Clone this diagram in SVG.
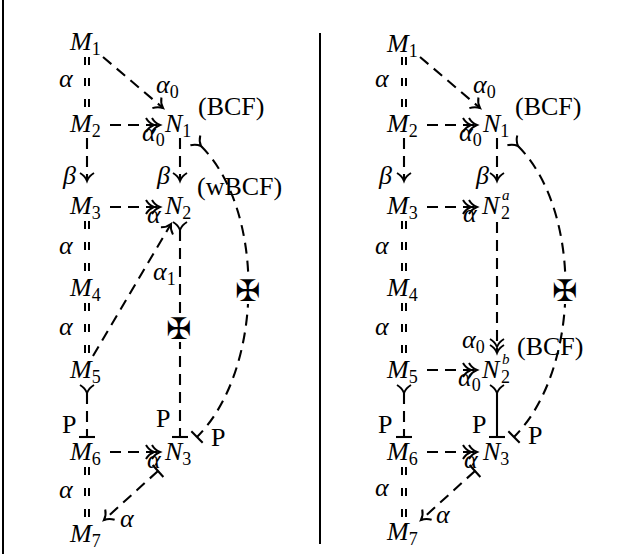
<svg xmlns="http://www.w3.org/2000/svg" width="636" height="554" viewBox="0 0 636 554">
<style>
.t{font-family:"Liberation Serif","Times New Roman",serif;font-size:26px;fill:#000}
.i{font-style:italic}
.s{font-size:18px}
.sp{font-size:15px}
.d{fill:none;stroke:#000;stroke-width:2.1;stroke-dasharray:11 7}
.dd{fill:none;stroke:#000;stroke-width:2;stroke-dasharray:8 13}
.sol{fill:none;stroke:#000;stroke-width:2.1}
.x{font-family:"DejaVu Sans",sans-serif;font-size:30px;fill:#000}
</style>
<defs>
<marker id="to" viewBox="-15 -10 25 20" refX="0" refY="0" markerWidth="25" markerHeight="20" markerUnits="userSpaceOnUse" orient="auto" overflow="visible"><path d="M-8,-7 C-6,-3.5 -2.5,-1 0,0 C-2.5,1 -6,3.5 -8,7" fill="none" stroke="#000" stroke-width="2"/></marker>
<marker id="to2" viewBox="-15 -10 25 20" refX="0" refY="0" markerWidth="25" markerHeight="20" markerUnits="userSpaceOnUse" orient="auto" overflow="visible"><path d="M-8,-7 C-6,-3.5 -2.5,-1 0,0 C-2.5,1 -6,3.5 -8,7 M-14,-7 C-12,-3.5 -8.5,-1 -6,0 C-8.5,1 -12,3.5 -14,7" fill="none" stroke="#000" stroke-width="2"/></marker>
<marker id="bar" viewBox="-10 -10 20 20" refX="0" refY="0" markerWidth="20" markerHeight="20" markerUnits="userSpaceOnUse" orient="auto" overflow="visible"><path d="M0,-8 L0,8" fill="none" stroke="#000" stroke-width="2.1"/></marker>
</defs>
<rect width="636" height="554" fill="#fff"/>
<g id="frame">
<line x1="3" y1="0" x2="3" y2="554" stroke="#000" stroke-width="2"/>
<line x1="320" y1="33" x2="320" y2="544" stroke="#000" stroke-width="2"/>
</g>

<g id="connectors-left">
<path class="dd" d="M85,57 V108 M89,57 V108"/>
<path class="d" d="M103,57 L163,108" marker-end="url(#to)"/>
<path class="d" d="M110,125 H160" marker-end="url(#to2)"/>
<path class="d" d="M87,138 V181" marker-end="url(#to)"/>
<path class="d" d="M180,138 V181" marker-end="url(#to)"/>
<path class="d" d="M110,207 H160" marker-end="url(#to2)"/>
<path class="dd" d="M85,221 V272 M89,221 V272"/>
<path class="dd" d="M85,303 V354 M89,303 V354"/>
<path class="d" d="M93,356 L171,224" marker-end="url(#to)"/>
<path class="d" d="M180,230 V437" marker-start="url(#to)" marker-end="url(#bar)"/>
<path class="d" d="M201,146 C266,211 264,370 197,437" marker-start="url(#to)" marker-end="url(#bar)"/>
<path class="d" d="M87,393 V437" marker-start="url(#to)" marker-end="url(#bar)"/>
<path class="d" d="M110,452 H160" marker-end="url(#to2)"/>
<path class="dd" d="M85,467 V518 M89,467 V518"/>
<path class="d" d="M158,471 L104,520" marker-start="url(#bar)" marker-end="url(#to)"/>
</g>

<g id="connectors-right">
<path class="dd" d="M402,57 V108 M406,57 V108"/>
<path class="d" d="M420,57 L480,108" marker-end="url(#to)"/>
<path class="d" d="M427,125 H477" marker-end="url(#to2)"/>
<path class="d" d="M404,138 V181" marker-end="url(#to)"/>
<path class="d" d="M497,138 V181" marker-end="url(#to)"/>
<path class="d" d="M427,207 H477" marker-end="url(#to2)"/>
<path class="dd" d="M402,221 V272 M406,221 V272"/>
<path class="dd" d="M402,303 V354 M406,303 V354"/>
<path class="d" d="M497,222 V353" marker-end="url(#to2)"/>
<path class="d" d="M518,146 C583,211 581,370 514,437" marker-start="url(#to)" marker-end="url(#bar)"/>
<path class="d" d="M427,370 H477" marker-end="url(#to2)"/>
<path class="d" d="M404,393 V437" marker-start="url(#to)" marker-end="url(#bar)"/>
<path class="sol" d="M497,393 V437" marker-start="url(#to)" marker-end="url(#bar)"/>
<path class="d" d="M427,452 H477" marker-end="url(#to2)"/>
<path class="dd" d="M402,467 V518 M406,467 V518"/>
<path class="d" d="M475,471 L421,520" marker-start="url(#bar)" marker-end="url(#to)"/>
</g>

<g id="L-M1"><text class="t" x="70" y="50"><tspan class="i">M</tspan><tspan class="s" dy="5">1</tspan></text></g>
<g id="L-M2"><text class="t" x="70" y="132"><tspan class="i">M</tspan><tspan class="s" dy="5">2</tspan></text></g>
<g id="L-M3"><text class="t" x="70" y="214"><tspan class="i">M</tspan><tspan class="s" dy="5">3</tspan></text></g>
<g id="L-M4"><text class="t" x="70" y="296"><tspan class="i">M</tspan><tspan class="s" dy="5">4</tspan></text></g>
<g id="L-M5"><text class="t" x="70" y="378"><tspan class="i">M</tspan><tspan class="s" dy="5">5</tspan></text></g>
<g id="L-M6"><text class="t" x="70" y="460"><tspan class="i">M</tspan><tspan class="s" dy="5">6</tspan></text></g>
<g id="L-M7"><text class="t" x="70" y="542"><tspan class="i">M</tspan><tspan class="s" dy="5">7</tspan></text></g>
<g id="L-N1"><text class="t" x="165" y="132"><tspan class="i">N</tspan><tspan class="s" dy="5">1</tspan></text></g>
<g id="L-N2"><text class="t" x="165" y="214"><tspan class="i">N</tspan><tspan class="s" dy="5">2</tspan></text></g>
<g id="L-N3"><text class="t" x="165" y="460"><tspan class="i">N</tspan><tspan class="s" dy="5">3</tspan></text></g>

<g id="L-labels">
<text class="t i" x="59" y="87">α</text>
<text class="t" x="156" y="93"><tspan class="i">α</tspan><tspan class="s" dy="5">0</tspan></text>
<text class="t" x="198" y="115">(BCF)</text>
<text class="t" x="142" y="141"><tspan class="i">α</tspan><tspan class="s" dy="5">0</tspan></text>
<text class="t i" x="63" y="184">β</text>
<text class="t i" x="157" y="184">β</text>
<text class="t" x="197" y="195">(wBCF)</text>
<text class="t i" x="147" y="223">α</text>
<text class="t i" x="59" y="254">α</text>
<text class="t i" x="59" y="335">α</text>
<text class="t" x="153" y="280"><tspan class="i">α</tspan><tspan class="s" dy="5">1</tspan></text>
<rect x="167" y="314" width="23" height="28" fill="#fff"/>
<text class="x" x="178.5" y="339" text-anchor="middle">✠</text>
<rect x="236" y="276" width="23" height="28" fill="#fff"/>
<text class="x" x="247.5" y="301" text-anchor="middle">✠</text>
<text class="t" x="62" y="433">P</text>
<text class="t" x="156" y="427">P</text>
<text class="t" x="211" y="446">P</text>
<text class="t i" x="147" y="468">α</text>
<text class="t i" x="59" y="498">α</text>
<text class="t i" x="120" y="527">α</text>
</g>

<g id="R-M1"><text class="t" x="387" y="52"><tspan class="i">M</tspan><tspan class="s" dy="5">1</tspan></text></g>
<g id="R-M2"><text class="t" x="387" y="132"><tspan class="i">M</tspan><tspan class="s" dy="5">2</tspan></text></g>
<g id="R-M3"><text class="t" x="387" y="214"><tspan class="i">M</tspan><tspan class="s" dy="5">3</tspan></text></g>
<g id="R-M4"><text class="t" x="387" y="296"><tspan class="i">M</tspan><tspan class="s" dy="5">4</tspan></text></g>
<g id="R-M5"><text class="t" x="387" y="378"><tspan class="i">M</tspan><tspan class="s" dy="5">5</tspan></text></g>
<g id="R-M6"><text class="t" x="387" y="460"><tspan class="i">M</tspan><tspan class="s" dy="5">6</tspan></text></g>
<g id="R-M7"><text class="t" x="387" y="540"><tspan class="i">M</tspan><tspan class="s" dy="5">7</tspan></text></g>
<g id="R-N1"><text class="t" x="483" y="132"><tspan class="i">N</tspan><tspan class="s" dy="5">1</tspan></text></g>
<g id="R-N2a"><text class="t i" x="482" y="214">N</text><text class="t s" x="501" y="219">2</text><text class="t sp i" x="502" y="200">a</text></g>
<g id="R-N2b"><text class="t i" x="482" y="378">N</text><text class="t s" x="501" y="383">2</text><text class="t sp i" x="502" y="364">b</text></g>
<g id="R-N3"><text class="t" x="483" y="460"><tspan class="i">N</tspan><tspan class="s" dy="5">3</tspan></text></g>

<g id="R-labels">
<text class="t i" x="375" y="87">α</text>
<text class="t" x="473" y="93"><tspan class="i">α</tspan><tspan class="s" dy="5">0</tspan></text>
<text class="t" x="515" y="115">(BCF)</text>
<text class="t" x="459" y="141"><tspan class="i">α</tspan><tspan class="s" dy="5">0</tspan></text>
<text class="t i" x="379" y="184">β</text>
<text class="t i" x="476" y="184">β</text>
<text class="t i" x="463" y="222">α</text>
<text class="t i" x="375" y="254">α</text>
<text class="t i" x="375" y="335">α</text>
<rect x="553" y="276" width="23" height="28" fill="#fff"/>
<text class="x" x="564.5" y="301" text-anchor="middle">✠</text>
<text class="t" x="462" y="348"><tspan class="i">α</tspan><tspan class="s" dy="5">0</tspan></text>
<text class="t" x="517" y="355">(BCF)</text>
<text class="t" x="458" y="386"><tspan class="i">α</tspan><tspan class="s" dy="5">0</tspan></text>
<text class="t" x="378" y="433">P</text>
<text class="t" x="472" y="433">P</text>
<text class="t" x="528" y="444">P</text>
<text class="t i" x="464" y="468">α</text>
<text class="t i" x="375" y="496">α</text>
<text class="t i" x="436" y="523">α</text>
</g>
</svg>
